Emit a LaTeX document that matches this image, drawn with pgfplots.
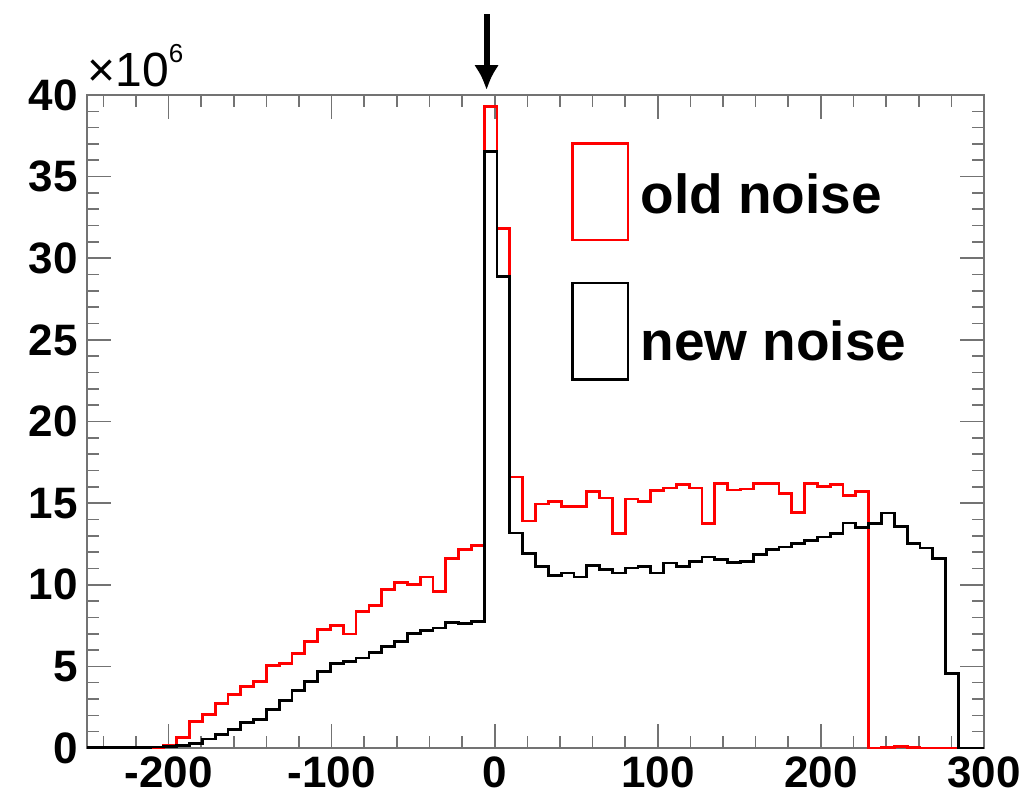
\documentclass[border=0pt]{standalone}
\usepackage{fontspec}
\setmainfont{Liberation Sans}
\usepackage{pgfplots}
\pgfplotsset{compat=1.18}
\usetikzlibrary{arrows.meta}
\pgfplotstableread{
x y
-250 0
-242.14 0
-234.29 0
-226.43 0
-218.57 0
-210.71 0.05
-202.86 0.15
-195 0.65
-187.14 1.6
-179.29 2.04
-171.43 2.71
-163.57 3.26
-155.71 3.77
-147.86 4.08
-140 5.06
-132.14 5.16
-124.29 5.77
-116.43 6.53
-108.57 7.24
-100.71 7.49
-92.86 6.98
-85 8.37
-77.14 8.71
-69.29 9.69
-61.43 10.14
-53.57 10.0
-45.71 10.47
-37.86 9.59
-30 11.63
-22.14 12.18
-14.29 12.41
-6.43 39.29
1.43 31.8
9.29 16.6
17.14 13.9
25 14.94
32.86 15.10
40.71 14.80
48.57 14.80
56.43 15.71
64.29 15.31
72.14 13.16
80 15.25
87.86 15.10
95.71 15.78
103.57 15.92
111.43 16.12
119.29 15.92
127.14 13.74
135 16.2
142.86 15.8
150.71 15.86
158.57 16.19
166.43 16.19
174.29 15.61
182.14 14.43
190 16.19
197.86 16.02
205.71 16.12
213.57 15.45
221.43 15.71
229.29 0
237.14 0.05
245 0.1
252.86 0.05
260.71 0
268.57 0
276.43 0
284.29 0
292.14 0
300 0
}\oldnoise
\pgfplotstableread{
x y
-250 0.02
-242.14 0.02
-234.29 0.02
-226.43 0.02
-218.57 0.04
-210.71 0.06
-202.86 0.1
-195 0.15
-187.14 0.28
-179.29 0.55
-171.43 0.81
-163.57 1.12
-155.71 1.55
-147.86 1.73
-140 2.35
-132.14 2.9
-124.29 3.5
-116.43 4.05
-108.57 4.7
-100.71 5.16
-92.86 5.30
-85 5.51
-77.14 5.86
-69.29 6.22
-61.43 6.53
-53.57 7.0
-45.71 7.2
-37.86 7.35
-30 7.69
-22.14 7.61
-14.29 7.75
-6.43 36.53
1.43 28.88
9.29 13.17
17.14 11.9
25 11.12
32.86 10.55
40.71 10.72
48.57 10.47
56.43 11.16
64.29 10.92
72.14 10.72
80 11.02
87.86 11.12
95.71 10.72
103.57 11.33
111.43 11.12
119.29 11.43
127.14 11.70
135 11.57
142.86 11.35
150.71 11.43
158.57 11.84
166.43 12.14
174.29 12.31
182.14 12.51
190 12.71
197.86 12.92
205.71 13.16
213.57 13.78
221.43 13.53
229.29 13.74
237.14 14.39
245 13.57
252.86 12.55
260.71 12.25
268.57 11.63
276.43 4.55
284.29 0
292.14 0
300 0
}\newnoise
\begin{document}
\begin{tikzpicture}
\begin{axis}[
  at={(0,0)}, anchor=south west,
  scale only axis, width=448.5pt, height=326.5pt,
  xmin=-250, xmax=300, ymin=0, ymax=40,
  xtick={-200,-100,0,100,200,300},
  xticklabels={-200,-100,0,100,200,300},
  minor xtick={-240,-220,...,300},
  ytick={0,5,...,40},
  yticklabels={0,5,10,15,20,25,30,35,40},
  minor ytick={0,1,...,40},
  tick align=inside,
  xtick pos=both, ytick pos=both,
  major tick length=12pt, minor tick length=6pt,
  tick style={black!55, line width=0.8pt},
  axis line style={black!55, line width=0.9pt},
  ticklabel style={font=\fontsize{22}{24}\selectfont\bfseries},
  xticklabel style={yshift=-1pt},
  yticklabel style={xshift=-1pt},
  clip=false,
]
\addplot[const plot mark left, red, line width=1.4pt] table {\oldnoise};
\addplot[const plot mark left, black, line width=1.4pt] table {\newnoise};
\draw[red, line width=1.3pt] (rel axis cs:0.541,0.778) rectangle (rel axis cs:0.603,0.926);
\draw[black, line width=1.3pt] (rel axis cs:0.541,0.564) rectangle (rel axis cs:0.603,0.712);
\node[anchor=base west, inner sep=0pt, font=\fontsize{27.5}{30}\selectfont\bfseries] at (rel axis cs:0.6165,0.819) {old noise};
\node[anchor=base west, inner sep=0pt, font=\fontsize{27.5}{30}\selectfont\bfseries] at (rel axis cs:0.6165,0.594) {new noise};
\node[anchor=base west, inner sep=0pt, yshift=4pt, font=\fontsize{24}{26}\selectfont] at (rel axis cs:0,1) {×10\raisebox{12pt}{\fontsize{13}{13}\selectfont 6}};
\draw[-{Latex[length=12.5pt,width=12.5pt]}, line width=3pt] (axis cs:-5,44.95) -- (axis cs:-5,40.3);
\end{axis}
\path (-43.5pt,-23.5pt) rectangle (470.5pt,374pt);
\end{tikzpicture}
\end{document}
